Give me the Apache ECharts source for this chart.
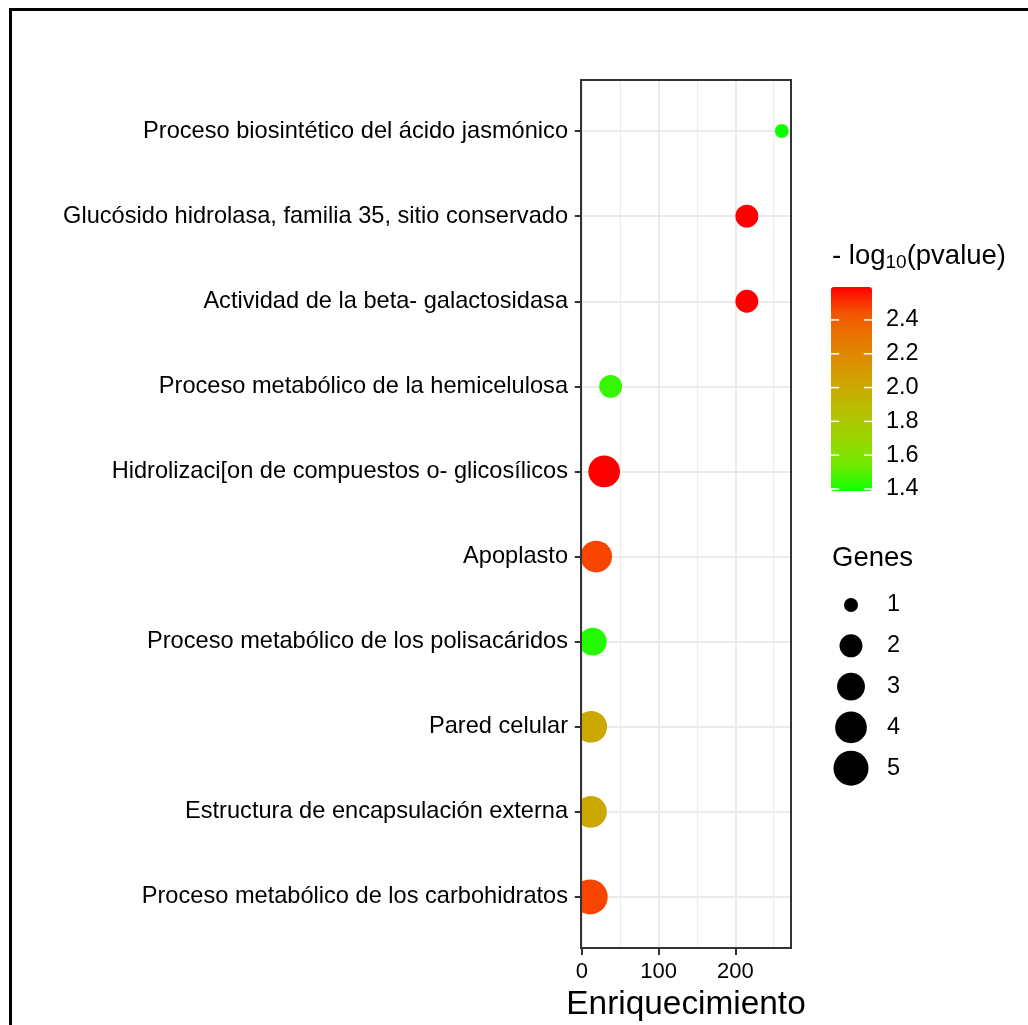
<!DOCTYPE html>
<html>
<head>
<meta charset="utf-8">
<script src="https://cdn.jsdelivr.net/npm/echarts@6/dist/echarts.min.js"></script>
<style>
  html, body { margin: 0; padding: 0; background: #ffffff; }
  #chart { width: 1028px; height: 1025px; }
</style>
</head>
<body>
<div id="chart"></div>
<script>
// GO / domain terms, listed top to bottom
const terms = [
  'Proceso biosintético del ácido jasmónico',
  'Glucósido hidrolasa, familia 35, sitio conservado',
  'Actividad de la beta- galactosidasa',
  'Proceso metabólico de la hemicelulosa',
  'Hidrolizaci[on de compuestos o- glicosílicos',
  'Apoplasto',
  'Proceso metabólico de los polisacáridos',
  'Pared celular',
  'Estructura de encapsulación externa',
  'Proceso metabólico de los carbohidratos'
];
const enrichment = [260.5, 215, 215, 37.6, 29.2, 18.8, 14.3, 12.3, 12.0, 11.0];
const genes      = [1, 2, 2, 2, 4, 4, 3, 4, 4, 5];
const logP       = [1.388, 2.595, 2.595, 1.45, 2.595, 2.47, 1.42, 2.01, 2.01, 2.47];

const xTicks      = [0, 100, 200];
const xMinorTicks = [50, 150, 250];
const pTicks      = [1.4, 1.6, 1.8, 2.0, 2.2, 2.4];
const geneBreaks  = [1, 2, 3, 4, 5];

const FONT = "'Liberation Sans', Arial, sans-serif";
const pMin = Math.min(...logP), pMax = Math.max(...logP);
const gMin = Math.min(...genes), gMax = Math.max(...genes);

// area-proportional point size (diameter in px)
function sizeFor(g) {
  const t = (g - gMin) / (gMax - gMin);
  return 4.2 * Math.sqrt(1 + 35 * t) + 9.8;
}

// green -> red gradient, interpolated in Lab space
const gradient = ['#10FF00', '#70EB00', '#98D700', '#B3C200', '#C9AB00',
                  '#DA9200', '#E87700', '#F55300', '#FF0000'];

const chart = echarts.init(document.getElementById('chart'), null, { renderer: 'canvas' });

const plotXMin = -1, plotXMax = 272.5;
const catLabels = terms.map((_, i) => i + 1);

const option = {
  backgroundColor: '#ffffff',
  animation: false,
  textStyle: { fontFamily: FONT },
  grid: [
    { // main panel
      left: 581, top: 80, width: 210, height: 868,
      show: true, backgroundColor: 'transparent',
      borderColor: '#333333', borderWidth: 2, z: 10,
      outerBoundsMode: 'none'
    },
    { // colour bar ticks
      left: 831, top: 287, width: 41, height: 204,
      outerBoundsMode: 'none'
    },
    { // size legend
      left: 831, top: 584.6, width: 40, height: 204,
      outerBoundsMode: 'none'
    }
  ],
  xAxis: [
    {
      gridIndex: 0, type: 'value', position: 'bottom',
      min: plotXMin, max: plotXMax,
      axisLine: { show: false },
      axisTick: { show: true, customValues: xTicks, length: 7, lineStyle: { color: '#333333', width: 2 } },
      axisLabel: { customValues: xTicks, margin: 13, fontSize: 22, color: '#000000', fontFamily: FONT },
      splitLine: { show: true, lineStyle: { color: '#EBEBEB', width: 2 } },
      name: 'Enriquecimiento', nameLocation: 'middle', nameGap: 37,
      nameTextStyle: { fontSize: 33.4, color: '#000000', fontFamily: FONT }
    },
    {
      gridIndex: 0, type: 'value', position: 'top',
      min: plotXMin, max: plotXMax,
      axisLine: { show: false },
      axisTick: { show: false, customValues: xMinorTicks },
      axisLabel: { show: false, customValues: xMinorTicks },
      splitLine: { show: true, lineStyle: { color: '#EDEDED', width: 1.2 } }
    },
    { gridIndex: 1, type: 'value', min: 0, max: 1, show: false },
    { gridIndex: 2, type: 'value', min: 0, max: 2, show: false }
  ],
  yAxis: [
    {
      gridIndex: 0, type: 'value', position: 'left', inverse: true,
      min: 0.4, max: 10.6,
      axisLine: { show: false },
      axisTick: { show: true, customValues: catLabels, length: 7, lineStyle: { color: '#333333', width: 2 } },
      axisLabel: {
        customValues: catLabels, margin: 13, fontSize: 23.6, color: '#000000', fontFamily: FONT,
        padding: [3, 0, 0, 0],
        formatter: v => terms[Math.round(v) - 1]
      },
      splitLine: { show: true, lineStyle: { color: '#EBEBEB', width: 2 } }
    },
    { // colour bar labels
      gridIndex: 1, type: 'value', position: 'right', min: pMin, max: pMax,
      axisLine: { show: false },
      axisTick: { show: false, customValues: pTicks },
      axisLabel: { customValues: pTicks, margin: 14, fontSize: 23.5, color: '#000000', fontFamily: FONT,
                   padding: [3, 0, 0, 0], formatter: v => v.toFixed(1) },
      splitLine: { show: false }
    },
    { // size legend labels
      gridIndex: 2, type: 'category', position: 'right', inverse: true,
      data: geneBreaks.map(String),
      axisLine: { show: false }, axisTick: { show: false },
      axisLabel: { margin: 16, fontSize: 23.5, color: '#000000', fontFamily: FONT },
      splitLine: { show: false }
    }
  ],
  visualMap: {
    type: 'continuous',
    seriesIndex: 0, dimension: 3,
    min: pMin, max: pMax,
    calculable: false, hoverLink: false,
    orient: 'vertical', z: 1,
    left: 831, top: 287, padding: 0,
    itemWidth: 41, itemHeight: 204,
    inRange: { color: gradient }
  },
  graphic: [
    {
      type: 'rect', silent: true, z: 100,
      shape: { x: 10.5, y: 9.5, width: 1100, height: 1100 },
      style: { fill: 'none', stroke: '#000000', lineWidth: 3 }
    },
    {
      type: 'text', left: 832, top: 242, silent: true,
      style: {
        text: '{a|- log}{s|10}{a|(pvalue)}',
        rich: {
          a: { fontSize: 27.5, lineHeight: 32, fontFamily: FONT, fill: '#000000', verticalAlign: 'middle' },
          s: { fontSize: 19, lineHeight: 16, fontFamily: FONT, fill: '#000000', verticalAlign: 'bottom' }
        }
      }
    },
    {
      type: 'text', left: 832, top: 542, silent: true,
      style: { text: 'Genes', fontSize: 27.5, lineHeight: 32, fontFamily: FONT, fill: '#000000' }
    }
  ],
  series: [
    {
      // enrichment dots, clipped to the panel
      type: 'custom', xAxisIndex: 0, yAxisIndex: 0,
      clip: true,
      dimensions: ['enrichment', 'term', 'genes', 'logp'],
      encode: { x: 0, y: 1 },
      data: terms.map((t, i) => [enrichment[i], i + 1, genes[i], logP[i]]),
      renderItem: (params, api) => {
        const c = api.coord([api.value(0), api.value(1)]);
        return {
          type: 'circle',
          shape: { cx: c[0], cy: c[1], r: sizeFor(api.value(2)) / 2 },
          style: { fill: api.visual('color') }
        };
      },
      emphasis: { disabled: true }
    },
    {
      // white tick marks on both edges of the colour bar
      type: 'custom', xAxisIndex: 2, yAxisIndex: 1, z: 5, silent: true,
      encode: { x: 0, y: 1 },
      data: pTicks.map(v => [0, v]),
      renderItem: (params, api) => {
        const y = api.coord([0, api.value(1)])[1];
        const cs = params.coordSys;
        const len = cs.width / 5;
        const st = { stroke: '#ffffff', lineWidth: 1.5 };
        return {
          type: 'group',
          children: [
            { type: 'line', shape: { x1: cs.x, y1: y, x2: cs.x + len, y2: y }, style: st },
            { type: 'line', shape: { x1: cs.x + cs.width - len, y1: y, x2: cs.x + cs.width, y2: y }, style: st }
          ]
        };
      }
    },
    {
      type: 'scatter', xAxisIndex: 3, yAxisIndex: 2,
      data: geneBreaks.map((g, i) => [1, i]),
      symbol: 'circle',
      symbolSize: (v, p) => sizeFor(geneBreaks[p.dataIndex]),
      itemStyle: { color: '#000000', opacity: 1 },
      emphasis: { disabled: true }
    }
  ]
};

chart.setOption(option);
</script>
</body>
</html>
